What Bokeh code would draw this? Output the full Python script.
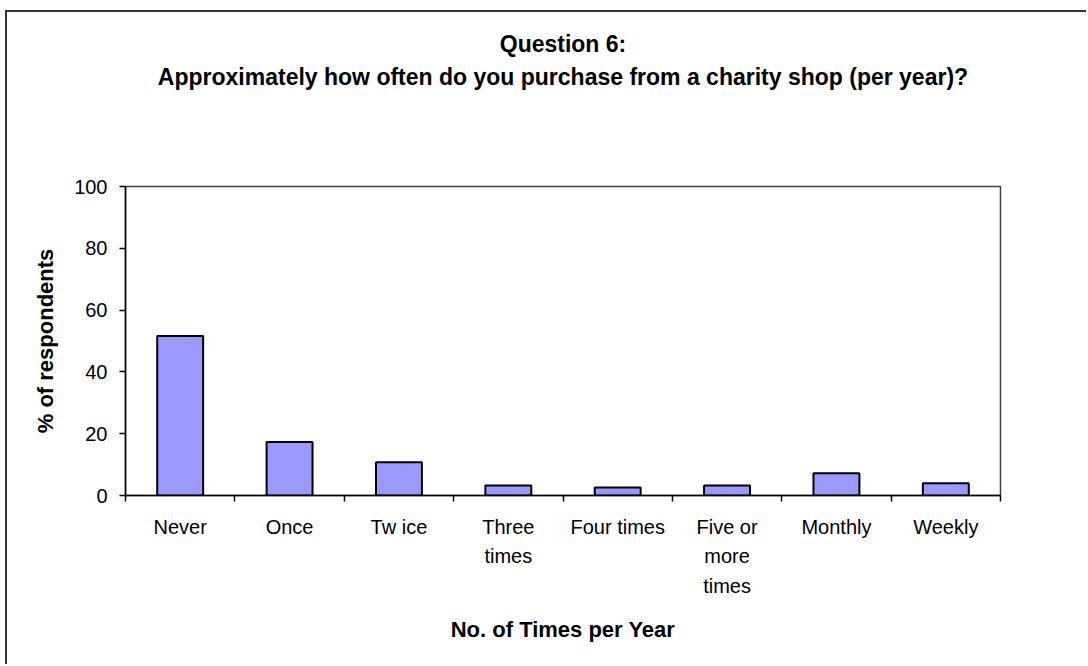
from bokeh.plotting import figure
from bokeh.models import Range1d, FixedTicker, CustomJSTickFormatter, Title, LinearAxis
from bokeh.embed import file_html
from bokeh.resources import INLINE
import numpy as np

categories = ["Never", "Once", "Tw ice", "Three\ntimes", "Four times",
              "Five or\nmore\ntimes", "Monthly", "Weekly"]
percent = [51.6, 17.3, 10.8, 3.2, 2.6, 3.2, 7.2, 4.0]
y_ticks = [0, 20, 40, 60, 80, 100]
title_line1 = "Question 6:"
title_line2 = "Approximately how often do you purchase from a charity shop (per year)?"
x_label = "No. of Times per Year"
y_label = "% of respondents"

FONT = "Liberation Sans"
n = len(categories)
xpos = np.arange(n) + 0.5

p = figure(width=1081, height=654, output_backend="svg", toolbar_location=None,
           x_range=Range1d(0, n), y_range=Range1d(0, 100),
           min_border_left=118, min_border_right=88,
           min_border_top=174, min_border_bottom=171,
           title=None)
p.margin = (10, 0, 0, 5)
p.styles = {"border-left": "2px solid #333333", "border-top": "2px solid #333333"}

p.vbar(x=xpos, top=percent, width=0.42, bottom=0,
       fill_color="#9999FF", line_color="black", line_width=2)

p.xgrid.visible = False
p.ygrid.visible = False
p.outline_line_color = "#404040"
p.outline_line_width = 1.5
p.background_fill_color = "white"
p.border_fill_color = "white"

xa = p.xaxis[0]
xa.ticker = FixedTicker(ticks=list(xpos), minor_ticks=list(range(n + 1)))
xa.formatter = CustomJSTickFormatter(args=dict(labels=categories),
                                     code="return labels[Math.floor(tick)];")
xa.major_tick_out = 0
xa.major_tick_in = 0
xa.minor_tick_out = 6
xa.minor_tick_in = 0
xa.minor_tick_line_color = "black"
xa.minor_tick_line_width = 1.5
xa.axis_line_color = "black"
xa.axis_line_width = 1.5
xa.major_label_text_font = FONT
xa.major_label_text_font_size = "20px"
xa.major_label_text_color = "black"
xa.major_label_text_line_height = 1.36
xa.major_label_standoff = 14
xa.axis_label = x_label
xa.axis_label_text_font = FONT
xa.axis_label_text_font_size = "22px"
xa.axis_label_text_font_style = "bold"
xa.axis_label_text_color = "black"
xa.axis_label_standoff = 17

ya = p.yaxis[0]
ya.ticker = FixedTicker(ticks=y_ticks)
ya.major_tick_out = 6
ya.major_tick_in = 0
ya.minor_tick_out = 0
ya.minor_tick_in = 0
ya.major_tick_line_color = "black"
ya.major_tick_line_width = 1.5
ya.axis_line_color = "black"
ya.axis_line_width = 1.5
ya.major_label_text_font = FONT
ya.major_label_text_font_size = "20px"
ya.major_label_text_color = "black"
ya.major_label_standoff = 12
ya.axis_label = y_label
ya.axis_label_text_font = FONT
ya.axis_label_text_font_size = "22px"
ya.axis_label_text_font_style = "bold"
ya.axis_label_text_color = "black"
ya.axis_label_standoff = 13

# second title line: carried by an invisible axis above the frame
top_axis = LinearAxis(ticker=FixedTicker(ticks=[]), axis_line_color=None,
                      major_tick_out=0, major_tick_in=0, minor_tick_out=0,
                      minor_tick_in=0, major_label_standoff=0,
                      axis_label=title_line2, axis_label_standoff=97,
                      axis_label_text_font=FONT, axis_label_text_font_size="23px",
                      axis_label_text_font_style="bold",
                      axis_label_text_color="black")
p.add_layout(top_axis, "above")
p.add_layout(Title(text=title_line1, align="center", text_font=FONT,
                   text_font_size="23px", text_font_style="bold",
                   text_color="black", standoff=8), "above")

open("out.html", "w").write(file_html(p, INLINE))
